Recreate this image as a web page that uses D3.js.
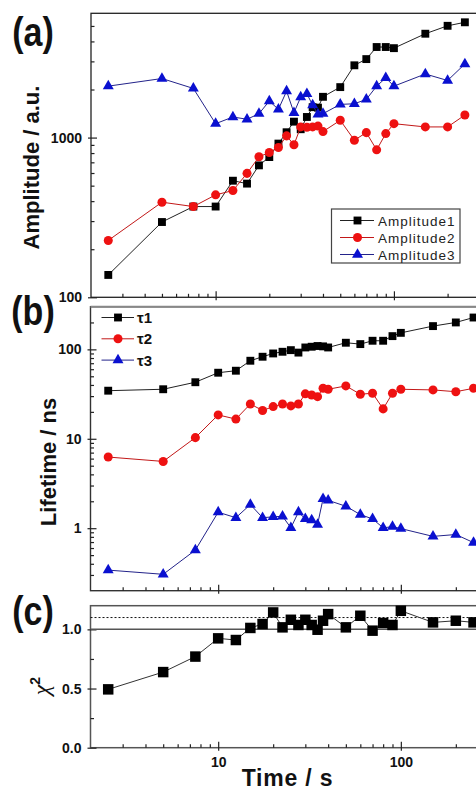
<!DOCTYPE html>
<html>
<head>
<meta charset="utf-8">
<script src="https://cdn.jsdelivr.net/npm/d3@7"></script>
<style>
body { margin: 0; background: #fff; }
svg { display: block; font-family: "Liberation Sans", Arial, sans-serif; }
</style>
</head>
<body>
<div id="chart"></div>
<script>
// time axis (s), shared by all three panels
var times = [2.5, 5, 7.5, 10, 12.5, 15, 17.5, 20, 22.5, 25, 27.5, 30, 32.5, 35, 37.5, 40, 50, 60, 70, 80, 90, 100, 150, 200, 250];

// (a) amplitudes, a.u.
var amplitude1 = [138, 296, 370, 370, 537, 515, 670, 755, 917, 1080, 1258, 1128, 1346, 1550, 1540, 1800, 2070, 2835, 3100, 3690, 3690, 3630, 4470, 5010, 5270];
var amplitude2 = [227, 394, 370, 438, 466, 597, 758, 807, 867, 1025, 901, 1166, 1160, 1166, 1180, 1090, 1283, 963, 1074, 838, 1059, 1222, 1166, 1166, 1384];
var amplitude3 = [2099, 2343, 2031, 1222, 1346, 1302, 1411, 1693, 1503, 1953, 1431, 1792, 1880, 1598, 1399, 1411, 1614, 1628, 1734, 2099, 2364, 2099, 2502, 2277, 2890];

// (b) lifetimes, ns
var tau1 = [34.5, 35.8, 42.9, 54.8, 57.7, 74.6, 82.7, 90, 94, 98, 92, 105, 107, 109, 108, 105, 118.6, 114.5, 124.8, 124.8, 140.6, 153, 182, 200, 227];
var tau2 = [6.25, 5.58, 10.3, 18.5, 16.6, 24.5, 20.7, 22.9, 24.5, 23.3, 24.5, 31.8, 30.9, 29.6, 36.7, 35.8, 39, 31.5, 32.3, 21.6, 32.3, 35.8, 35.2, 33.6, 36.7];
var tau3 = [0.34, 0.305, 0.569, 1.51, 1.31, 1.84, 1.31, 1.34, 1.36, 1.01, 1.51, 1.27, 1.23, 1.1, 2.13, 2.05, 1.76, 1.42, 1.27, 1.01, 1.04, 0.99, 0.81, 0.85, 0.69];

// (c) chi square
var chi2 = [0.493, 0.639, 0.77, 0.924, 0.91, 1.012, 1.045, 1.143, 1.017, 1.081, 1.037, 1.081, 1.037, 0.997, 1.073, 1.129, 1.017, 1.115, 0.989, 1.054, 1.037, 1.157, 1.059, 1.073, 1.059];
var chiRefLines = [1.0, 1.1];

// tick labels
var xMajor = [10, 100];
var ampMajor = [100, 1000];
var lifeMajor = [1, 10, 100];
var chiMajor = [0, 0.5, 1.0];
var chiMinor = [0.25, 0.75];

var legendA = ["Amplitude1", "Amplitude2", "Amplitude3"];
var legendB = ["\u03c41", "\u03c42", "\u03c43"];

var black = "#000", red = "#ee1111", blue = "#0a10d0";

var svg = d3.select("#chart").append("svg")
	.attr("width", 476)
	.attr("height", 792);

// scales
var xA = d3.scaleLog().domain([2, 300]).range([91, 479]);
var xB = d3.scaleLog().domain([2, 300]).range([90.5, 488]);
var yA = d3.scaleLog().domain([100, 6000]).range([297.3, 13.3]);
var yB = d3.scaleLog().domain([0.2, 300]).range([590.7, 306.7]);
var yC = d3.scaleLinear().domain([0, 1.2]).range([747.7, 605.7]);

function frame(x, y, color, width) {
	svg.append("rect")
		.attr("x", x.range()[0])
		.attr("y", y.range()[1])
		.attr("width", x.range()[1] - x.range()[0])
		.attr("height", y.range()[0] - y.range()[1])
		.attr("fill", "none")
		.attr("stroke", color)
		.attr("stroke-width", width);
}

function minorLog(scale, majors) {
	var d = scale.domain();
	return scale.ticks().filter(function(t) {
		return majors.indexOf(t) < 0 && t > d[0] && t < d[1];
	});
}

function leftAxis(y, x0, major, minor, fmt) {
	var g = svg.append("g").attr("transform", "translate(" + x0 + ",0)");
	g.append("g").call(d3.axisLeft(y).tickValues(minor).tickSize(-3.5).tickFormat(""));
	g.append("g").call(d3.axisLeft(y).tickValues(major).tickSize(-6).tickPadding(9).tickFormat(fmt));
	g.selectAll(".domain").remove();
	g.selectAll(".tick line").attr("stroke", "#222").attr("stroke-width", 1.2);
	g.selectAll("text")
		.attr("fill", "#111")
		.attr("font-size", 14)
		.attr("font-weight", "bold")
		.attr("font-family", "Liberation Sans, Arial, sans-serif");
	return g;
}

function bottomAxis(x, y0, labels) {
	var g = svg.append("g").attr("transform", "translate(0," + y0 + ")");
	g.append("g").call(d3.axisBottom(x).tickValues(minorLog(x, xMajor)).tickSize(-3.5).tickFormat(""));
	var maj = g.append("g").call(d3.axisBottom(x).tickValues(xMajor).tickSize(-6).tickPadding(9)
		.tickFormat(labels ? d3.format("d") : ""));
	maj.selectAll(".tick line").attr("y1", 3);
	g.selectAll(".domain").remove();
	g.selectAll(".tick line").attr("stroke", "#222").attr("stroke-width", 1.2);
	g.selectAll("text")
		.attr("fill", "#111")
		.attr("font-size", 14)
		.attr("font-weight", "bold")
		.attr("font-family", "Liberation Sans, Arial, sans-serif");
}

function series(x, y, vals, fill, lineColor, shape, size) {
	var pts = times.map(function(t, i) { return {t: t, v: vals[i]}; });
	svg.append("path")
		.datum(pts)
		.attr("d", d3.line().x(function(d) { return x(d.t); }).y(function(d) { return y(d.v); }))
		.attr("fill", "none")
		.attr("stroke", lineColor)
		.attr("stroke-width", 1);
	svg.append("g").selectAll("path")
		.data(pts)
		.enter().append("path")
		.attr("transform", function(d) { return "translate(" + x(d.t) + "," + y(d.v) + ")"; })
		.attr("d", d3.symbol().type(shape).size(size))
		.attr("fill", fill);
}

// ----------------------------------------------------------
// panel (a)
frame(xA, yA, "#222", 1.3);
var la = leftAxis(yA, xA.range()[0], ampMajor, minorLog(yA, ampMajor), d3.format("d"));
la.selectAll(".tick line").filter(function(d) { return ampMajor.indexOf(d) >= 0; }).attr("x1", -3);
bottomAxis(xA, yA.range()[0], false);

series(xA, yA, amplitude1, black, "#222", d3.symbolSquare, 62);
series(xA, yA, amplitude2, red, "#c21818", d3.symbolCircle, 64);
series(xA, yA, amplitude3, blue, "#23238a", d3.symbolTriangle, 52);

// legend (a)
svg.append("rect")
	.attr("x", 331.5).attr("y", 209)
	.attr("width", 128.5).attr("height", 54)
	.attr("fill", "#fff").attr("stroke", "#444").attr("stroke-width", 1.2);

var legA = svg.selectAll(".legA")
	.data(legendA)
	.enter().append("g")
	.attr("class", "legA")
	.attr("transform", function(d, i) { return "translate(0," + (220.5 + i * 17) + ")"; });
var legColors = [black, red, blue];
var legLines = ["#222", "#c21818", "#23238a"];
var legShapes = [d3.symbolSquare, d3.symbolCircle, d3.symbolTriangle];
var legSizes = [62, 64, 52];
legA.append("line")
	.attr("x1", 340).attr("x2", 374).attr("y1", 0).attr("y2", 0)
	.attr("stroke", function(d, i) { return legLines[i]; });
legA.append("path")
	.attr("transform", "translate(357.5,0)")
	.attr("d", function(d, i) { return d3.symbol().type(legShapes[i]).size(legSizes[i])(); })
	.attr("fill", function(d, i) { return legColors[i]; });
legA.append("text")
	.attr("x", 378).attr("y", 5)
	.attr("font-size", 13.5)
	.attr("letter-spacing", 1)
	.attr("fill", "#222")
	.text(function(d) { return d; });

// ----------------------------------------------------------
// panel (b)
frame(xB, yB, "#333", 1.4);
svg.append("line")
	.attr("x1", xB.range()[0]).attr("x2", xB.range()[1])
	.attr("y1", yB.range()[1]).attr("y2", yB.range()[1])
	.attr("stroke", "#888").attr("stroke-width", 2);
var lb = leftAxis(yB, xB.range()[0], lifeMajor, minorLog(yB, lifeMajor), d3.format("d"));
lb.selectAll(".tick line").filter(function(d) { return lifeMajor.indexOf(d) >= 0; }).attr("x1", -3);
bottomAxis(xB, yB.range()[0], false);

series(xB, yB, tau1, black, "#222", d3.symbolSquare, 62);
series(xB, yB, tau2, red, "#c21818", d3.symbolCircle, 64);
series(xB, yB, tau3, blue, "#23238a", d3.symbolTriangle, 52);

var legB = svg.selectAll(".legB")
	.data(legendB)
	.enter().append("g")
	.attr("class", "legB")
	.attr("transform", function(d, i) { return "translate(0," + (317.5 + i * 21.3) + ")"; });
legB.append("line")
	.attr("x1", 101.5).attr("x2", 134).attr("y1", 0).attr("y2", 0)
	.attr("stroke", function(d, i) { return legLines[i]; });
legB.append("path")
	.attr("transform", "translate(118,0)")
	.attr("d", function(d, i) { return d3.symbol().type(legShapes[i]).size(legSizes[i])(); })
	.attr("fill", function(d, i) { return legColors[i]; });
legB.append("text")
	.attr("x", 137).attr("y", 5.5)
	.attr("font-size", 15)
	.attr("font-weight", "bold")
	.attr("fill", "#111")
	.text(function(d) { return d; });

// ----------------------------------------------------------
// panel (c)
frame(xB, yC, "#555", 1.5);
leftAxis(yC, xB.range()[0], chiMajor, chiMinor, d3.format(".1f"))
	.selectAll(".tick line").filter(function(d) { return chiMajor.indexOf(d) >= 0; }).attr("x1", -3);
bottomAxis(xB, yC.range()[0], true);

svg.append("line")
	.attr("x1", xB.range()[0]).attr("x2", xB.range()[1])
	.attr("y1", yC(chiRefLines[0])).attr("y2", yC(chiRefLines[0]))
	.attr("stroke", "#555").attr("stroke-width", 1.5);
svg.append("line")
	.attr("x1", xB.range()[0]).attr("x2", xB.range()[1])
	.attr("y1", yC(chiRefLines[1])).attr("y2", yC(chiRefLines[1]))
	.attr("stroke", "#111").attr("stroke-width", 1)
	.attr("stroke-dasharray", "2,2");

series(xB, yC, chi2, black, "#333", d3.symbolSquare, 110);

// ----------------------------------------------------------
// labels
var panelLabels = [["(a)", 34], ["(b)", 312.5], ["(c)", 612.5]];
panelLabels.forEach(function(p) {
	svg.append("text")
		.attr("transform", "translate(33," + (p[1] + 12) + ") scale(1,1.22)")
		.attr("text-anchor", "middle")
		.attr("font-size", 34)
		.attr("font-weight", "bold")
		.attr("fill", "#111")
		.text(p[0]);
});

svg.append("text")
	.attr("transform", "translate(39,167.5) rotate(-90)")
	.attr("text-anchor", "middle")
	.attr("font-size", 22)
	.attr("font-weight", "bold")
	.attr("fill", "#111")
	.text("Amplitude / a.u.");

svg.append("text")
	.attr("transform", "translate(56,462) rotate(-90)")
	.attr("text-anchor", "middle")
	.attr("font-size", 22)
	.attr("font-weight", "bold")
	.attr("fill", "#111")
	.text("Lifetime / ns");

var chiLabel = svg.append("text")
	.attr("transform", "translate(49,686) rotate(-90)")
	.attr("text-anchor", "middle")
	.attr("fill", "#111");
chiLabel.append("tspan")
	.attr("font-family", "Liberation Serif, serif")
	.attr("font-style", "italic")
	.attr("font-size", 24)
	.text("\u03c7");
chiLabel.append("tspan")
	.attr("font-size", 14)
	.attr("font-weight", "bold")
	.attr("dy", -9)
	.text("2");

svg.append("text")
	.attr("x", 287.5).attr("y", 786)
	.attr("text-anchor", "middle")
	.attr("font-size", 23)
	.attr("font-weight", "bold")
	.attr("letter-spacing", 0.8)
	.attr("fill", "#111")
	.text("Time / s");
</script>
</body>
</html>
